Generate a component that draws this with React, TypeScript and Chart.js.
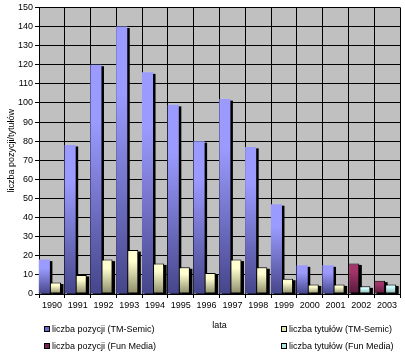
import React, { useEffect, useRef } from "react";
import { Chart, registerables } from "chart.js";

Chart.register(...registerables);

const years = ["1990", "1991", "1992", "1993", "1994", "1995", "1996", "1997", "1998", "1999", "2000", "2001", "2002", "2003"];
const pozycjeTM = [18, 78, 120, 140, 116, 99, 80, 102, 77, 47, 15, 15, null, null];
const tytulyTM = [6, 10, 18, 23, 16, 14, 11, 18, 14, 8, 5, 5, null, null];
const pozycjeFM = [null, null, null, null, null, null, null, null, null, null, null, null, 16, 7];
const tytulyFM = [null, null, null, null, null, null, null, null, null, null, null, null, 4, 5];
const yTicks = [0, 10, 20, 30, 40, 50, 60, 70, 80, 90, 100, 110, 120, 130, 140, 150];

const seriesNames = [
  "liczba pozycji (TM-Semic)",
  "liczba tytułów (TM-Semic)",
  "liczba pozycji (Fun Media)",
  "liczba tytułów (Fun Media)",
];

const FONT = "'Liberation Sans', Arial, sans-serif";

function gradientFill(top: string, bottom: string, fallback: string) {
  return (ctx: any) => {
    const chart = ctx.chart;
    if (!chart.chartArea || ctx.type !== "data" || ctx.raw == null) return fallback;
    const y = chart.scales.y;
    const t = y.getPixelForValue(ctx.raw);
    const b = y.getPixelForValue(0);
    if (!isFinite(t) || !isFinite(b) || b - t < 1) return fallback;
    const g = chart.ctx.createLinearGradient(0, t, 0, b);
    g.addColorStop(0, top);
    g.addColorStop(0.25, top);
    g.addColorStop(1, bottom);
    return g;
  };
}

const plotBg = {
  id: "plotBg",
  beforeDraw(chart: any) {
    const { ctx, chartArea } = chart;
    if (!chartArea) return;
    ctx.save();
    ctx.fillStyle = "#c0c0c0";
    ctx.fillRect(chartArea.left, chartArea.top, chartArea.right - chartArea.left, chartArea.bottom - chartArea.top);
    ctx.restore();
  },
};

const depth = {
  id: "depth",
  beforeDatasetsDraw(chart: any) {
    const c = chart.ctx;
    c.save();
    c.translate(-2, 0);
    c.fillStyle = "#000";
    chart.data.datasets.forEach((ds: any, i: number) => {
      const meta = chart.getDatasetMeta(i);
      meta.data.forEach((el: any, j: number) => {
        if (ds.data[j] == null) return;
        const p = el.getProps(["x", "y", "base", "width"], true);
        c.fillRect(p.x - p.width / 2 + 2.5, p.y + 1.5, p.width, p.base - p.y);
      });
    });
  },
  afterDatasetsDraw(chart: any) {
    chart.ctx.restore();
  },
};

const legendItems = [
  { name: seriesNames[0], color: "#6a6ac8", left: 44, top: 329 },
  { name: seriesNames[1], color: "#e2e2b4", left: 281, top: 329 },
  { name: seriesNames[2], color: "#7a2450", left: 44, top: 346 },
  { name: seriesNames[3], color: "#b4e2e2", left: 281, top: 346 },
];

export default function App() {
  const ref = useRef<HTMLCanvasElement>(null);

  useEffect(() => {
    document.body.style.margin = "0";
    const canvas = ref.current!;
    const common = { borderSkipped: false, barPercentage: 1, categoryPercentage: 0.86 };
    const chart = new Chart(canvas, {
      type: "bar",
      data: {
        labels: years,
        datasets: [
          { label: seriesNames[0], data: pozycjeTM, stack: "p", backgroundColor: gradientFill("#9b9bff", "#45458a", "#7070d0"), borderWidth: 0, ...common },
          { label: seriesNames[1], data: tytulyTM, stack: "t", backgroundColor: gradientFill("#ffffcf", "#8a8a68", "#e0e0b0"), borderWidth: 1, borderColor: "#000", ...common },
          { label: seriesNames[2], data: pozycjeFM, stack: "p", backgroundColor: gradientFill("#a3346a", "#561a3a", "#7a2450"), borderWidth: 1, borderColor: "#000", ...common },
          { label: seriesNames[3], data: tytulyFM, stack: "t", backgroundColor: gradientFill("#d2ffff", "#88b0b0", "#b4e2e2"), borderWidth: 1, borderColor: "#000", ...common },
        ] as any,
      },
      options: {
        responsive: false,
        animation: false,
        devicePixelRatio: 1,
        layout: { padding: { top: 7, right: 5, left: 0, bottom: 25 } },
        plugins: { legend: { display: false }, tooltip: { enabled: false } },
        scales: {
          x: {
            offset: true,
            grid: { offset: true, color: "#000", lineWidth: 1, tickLength: 4, drawTicks: true },
            border: { color: "#000" },
            ticks: { color: "#000", font: { family: FONT, size: 9 }, padding: 2, maxRotation: 0, autoSkip: false },
            title: { display: true, text: "lata", color: "#000", font: { family: FONT, size: 9 }, padding: { top: 0, bottom: 0 } },
            afterFit: (s: any) => { s.height = 37; },
          },
          y: {
            stacked: true,
            min: 0,
            max: 150,
            afterBuildTicks: (s: any) => { s.ticks = yTicks.map((v) => ({ value: v })); },
            grid: { color: "#000", lineWidth: 1, tickLength: 4 },
            border: { color: "#000" },
            ticks: { color: "#000", font: { family: FONT, size: 9 }, padding: 2 },
            title: { display: true, text: "liczba pozycji/tytułów", color: "#000", font: { family: FONT, size: 9 }, padding: { top: 6, bottom: 0 } },
            afterFit: (s: any) => { s.width = 39; },
          },
        },
      } as any,
      plugins: [plotBg, depth],
    });
    return () => chart.destroy();
  }, []);

  return (
    <div style={{ position: "relative", width: 405, height: 356, background: "#fff", fontFamily: FONT }}>
      <canvas ref={ref} width={405} height={356} style={{ display: "block", width: 405, height: 356 }} />
      {legendItems.map((it) => (
        <div
          key={it.name}
          style={{
            position: "absolute",
            left: it.left,
            top: it.top - 6,
            height: 12,
            display: "flex",
            alignItems: "center",
            fontSize: 9,
            color: "#000",
            whiteSpace: "nowrap",
          }}
        >
          <span style={{ display: "inline-block", width: 4, height: 4, border: "1px solid #000", background: it.color, marginRight: 2 }} />
          <span>{it.name}</span>
        </div>
      ))}
    </div>
  );
}
